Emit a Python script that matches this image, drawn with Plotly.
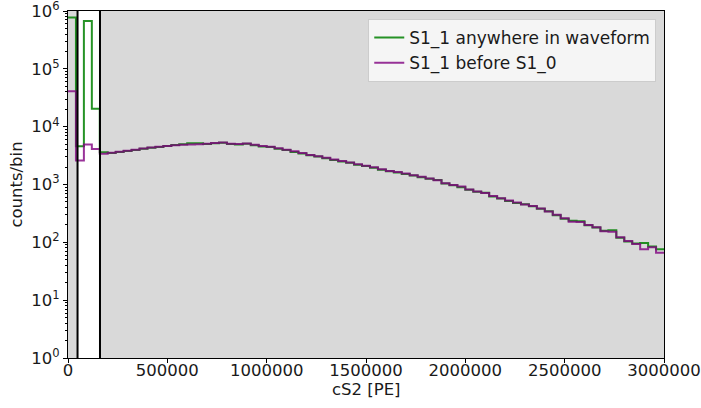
import plotly.graph_objects as go

# ---- data ----
bin_width = 40000
n_bins = 75
bin_edges = [i * bin_width for i in range(n_bins + 1)]

purple_counts = [
    41000, 2600, 4900, 4100, 3400, 3550, 3700, 3850, 4000, 4200,
    4350, 4500, 4650, 4750, 4850, 4900, 4950, 5050, 5200, 5300,
    5050, 5000, 5100, 4850, 4650, 4500, 4250, 4000, 3750, 3500,
    3250, 3080, 2900, 2700, 2550, 2400, 2250, 2100, 1980, 1830,
    1720, 1640, 1550, 1450, 1360, 1270, 1190, 1050, 980, 920,
    820, 760, 710, 630, 580, 530, 490, 450, 425, 385,
    340, 300, 260, 228, 225, 200, 182, 155, 153, 122,
    105, 94, 76, 82, 66,
]
green_counts = [
    770000, 4600, 670000, 20500, 3600, 3500, 3650, 3800, 3950, 4150,
    4300, 4450, 4650, 4800, 4950, 5150, 5150, 5000, 5150, 5250,
    5000, 4900, 5050, 4750, 4550, 4450, 4150, 3950, 3650, 3450,
    3200, 3050, 2850, 2650, 2500, 2380, 2200, 2080, 1950, 1800,
    1700, 1620, 1520, 1430, 1340, 1260, 1200, 1040, 970, 900,
    810, 750, 720, 620, 570, 520, 480, 455, 420, 380,
    345, 295, 255, 235, 232, 198, 180, 158, 162, 120,
    103, 95, 97, 85, 76,
]
series_names = ["S1_1 anywhere in waveform", "S1_1 before S1_0"]
cut_lines = [48000, 161000]
x_range = [0, 3000000]
x_ticks = [0, 500000, 1000000, 1500000, 2000000, 2500000, 3000000]
x_ticklabels = ["0", "500000", "1000000", "1500000", "2000000", "2500000", "3000000"]
y_exponents = [0, 1, 2, 3, 4, 5, 6]
x_title = "cS2 [PE]"
y_title = "counts/bin"

# ---- figure ----
fig = go.Figure()

for name, counts, color in [
    (series_names[0], green_counts, "rgba(0,128,0,0.85)"),
    (series_names[1], purple_counts, "rgba(128,0,128,0.8)"),
]:
    fig.add_trace(go.Scatter(
        x=bin_edges,
        y=counts + [counts[-1]],
        mode="lines",
        line=dict(color=color, width=2, shape="hv"),
        name=name,
    ))

gray = "#d9d9d9"
shapes = [
    dict(type="rect", xref="x", yref="paper", x0=x_range[0], x1=cut_lines[0],
         y0=0, y1=1, fillcolor=gray, line=dict(width=0), layer="below"),
    dict(type="rect", xref="x", yref="paper", x0=cut_lines[1], x1=x_range[1],
         y0=0, y1=1, fillcolor=gray, line=dict(width=0), layer="below"),
]
for xv in cut_lines:
    shapes.append(dict(type="line", xref="x", yref="paper", x0=xv, x1=xv,
                       y0=0, y1=1, line=dict(color="black", width=2), layer="above"))

font = "DejaVu Sans"
fig.update_layout(
    width=701, height=408,
    margin=dict(l=68, r=37, t=11, b=50),
    paper_bgcolor="white",
    plot_bgcolor="white",
    shapes=shapes,
    font=dict(family=font, size=16.5, color="#1a1a1a"),
    showlegend=True,
    legend=dict(
        x=0.987, y=0.977, xanchor="right", yanchor="top",
        bgcolor="rgba(247,247,247,0.9)",
        bordercolor="#cccccc", borderwidth=1,
        font=dict(family=font, size=17, color="#1a1a1a"),
        tracegroupgap=0,
    ),
    annotations=[
        dict(text=x_title, xref="paper", yref="paper", x=0.5, y=-0.09,
             xanchor="center", yanchor="middle", showarrow=False,
             font=dict(family=font, size=16.5, color="#1a1a1a")),
    ],
    xaxis=dict(
        range=x_range,
        tickvals=x_ticks, ticktext=x_ticklabels,
        ticks="outside", ticklen=4, tickcolor="black",
        showline=True, linecolor="black", linewidth=1, mirror=True,
        showgrid=False, zeroline=False, automargin=False,
        ticklabeloverflow="allow", ticklabelstandoff=-7,
        tickfont=dict(size=16.5),
    ),
    yaxis=dict(
        type="log",
        range=[y_exponents[0], y_exponents[-1]],
        tickvals=[10 ** e for e in y_exponents],
        ticktext=["10<sup>%d</sup>" % e for e in y_exponents],
        ticks="outside", ticklen=4, tickcolor="black",
        minor=dict(ticks="outside", ticklen=2, tickcolor="black", dtick="D1", showgrid=False),
        showline=True, linecolor="black", linewidth=1, mirror=True,
        showgrid=False, zeroline=False, automargin=False,
        ticklabeloverflow="allow",
        title=dict(text=y_title, font=dict(size=16.5), standoff=4),
        tickfont=dict(size=16.5),
    ),
)

fig.write_html("out.html")
